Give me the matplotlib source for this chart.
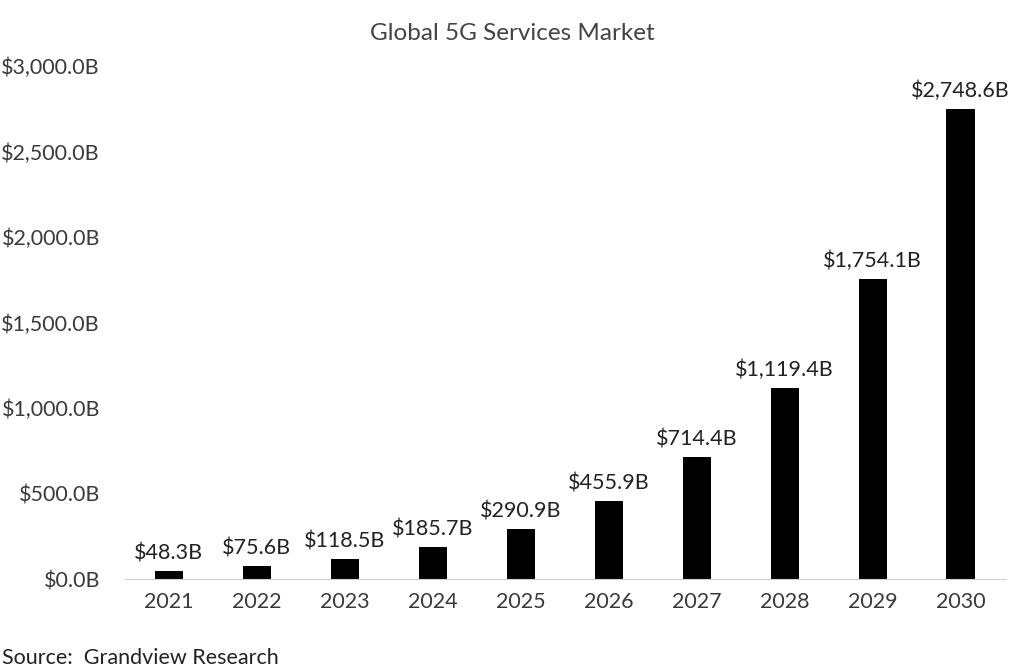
import matplotlib.pyplot as plt
from matplotlib.ticker import FuncFormatter

years = ["2021", "2022", "2023", "2024", "2025", "2026", "2027", "2028", "2029", "2030"]
market = [48.3, 75.6, 118.5, 185.7, 290.9, 455.9, 714.4, 1119.4, 1754.1, 2748.6]
yticks = [0, 500, 1000, 1500, 2000, 2500, 3000]

plt.rcParams['font.family'] = ['Lato', 'DejaVu Sans']

fig = plt.figure(figsize=(10.24, 6.68), dpi=100)
ax = fig.add_axes([0.122, 0.133, 0.859, 0.768])

x = range(len(years))
bars = ax.bar(x, market, width=0.32, color="black")
for b, v in zip(bars, market):
    ax.text(b.get_x() + b.get_width() / 2, v + 45, "${:,.1f}B".format(v),
            ha="center", va="bottom", fontsize=15.5, color="#222222")

ax.set_xlim(-0.5, len(years) - 0.5)
ax.set_ylim(0, 3000)
ax.set_xticks(list(x))
ax.set_xticklabels(years)
ax.set_yticks(yticks)
ax.yaxis.set_major_formatter(FuncFormatter(lambda v, p: "${:,.1f}B".format(v)))
ax.tick_params(axis="both", length=0, labelsize=15.5, colors="#3a3a3a")
ax.tick_params(axis="x", pad=9)
ax.tick_params(axis="y", pad=18)

for s in ["top", "right", "left"]:
    ax.spines[s].set_visible(False)
ax.spines["bottom"].set_color("#d0d0d0")

fig.text(0.5, 0.95, "Global 5G Services Market", ha="center", va="center",
         fontsize=17.5, color="#444444")
fig.text(0.002, 0.015, "Source:  Grandview Research", ha="left", va="center",
         fontsize=15.5, color="#222222")

fig.savefig("out.png", dpi=100)
